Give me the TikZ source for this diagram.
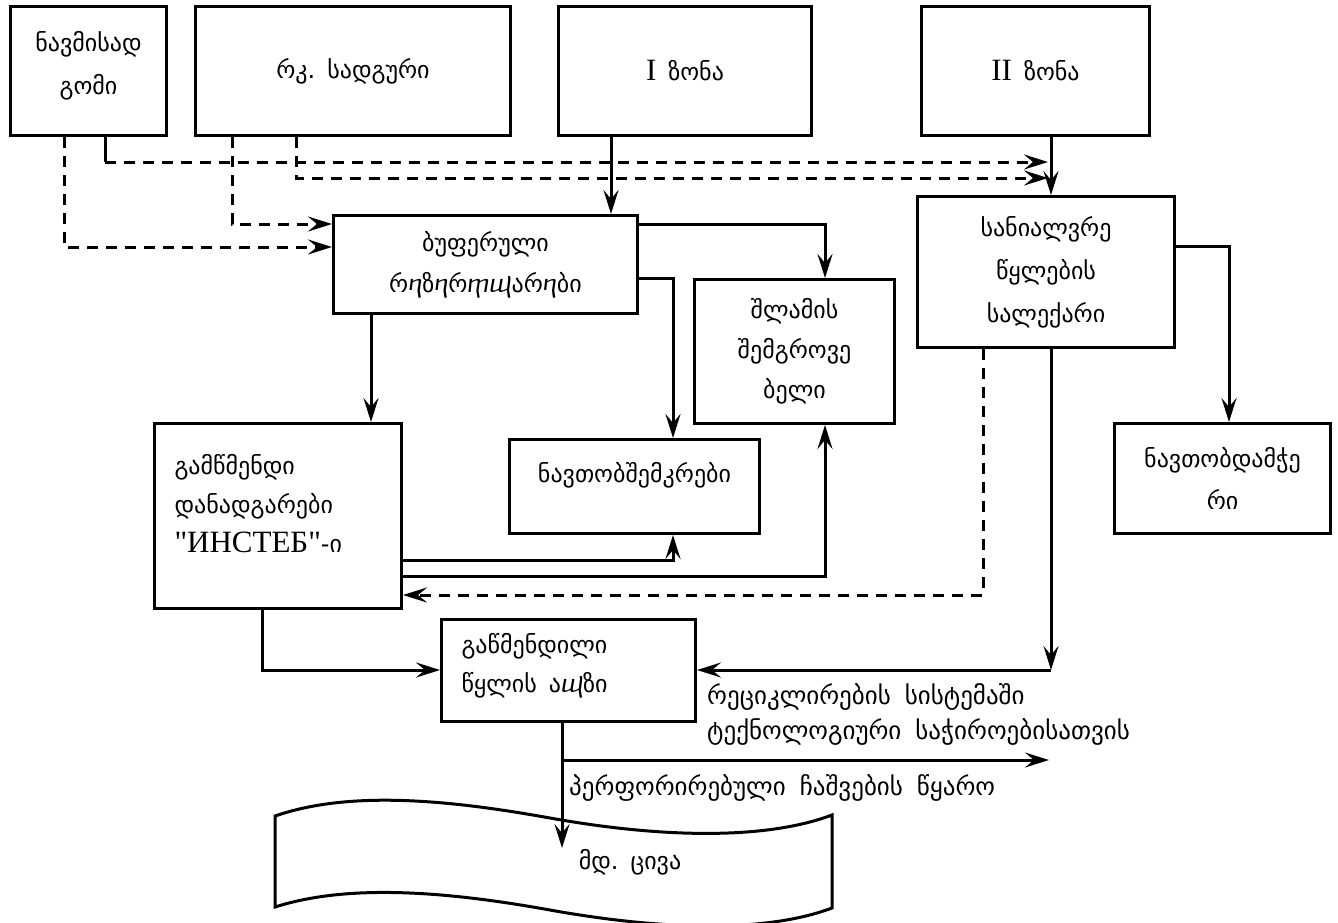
\documentclass[tikz,border=0pt]{standalone}
\usepackage{fontspec}
\setmainfont{Liberation Serif}
\newfontfamily\geo{DejaVu Sans}
\newfontfamily\latn{Liberation Serif}
\usetikzlibrary{arrows.meta}
\newcommand\geotxt{\geo\fontsize{24}{43}\selectfont}
\newcommand\geolbl{\geo\fontsize{25}{43}\selectfont}
\newcommand\lat[1]{{\latn\fontsize{31}{43}\selectfont #1}}
\newcommand\gsp{\hspace{12pt}}
\newcommand\lsp{\hspace{14pt}}
\begin{document}
\begin{tikzpicture}[x=1pt,y=-1pt,
  box/.style={draw, line width=3pt, rectangle, anchor=north west, inner sep=0pt, align=center, font=\geotxt},
  lbox/.style={box, align=left, inner xsep=20pt},
  arr/.style={line width=3pt, -{Stealth[length=24pt,width=15pt,inset=9pt]}},
  darr/.style={arr, dash pattern=on 11pt off 8pt},
  plain/.style={line width=3pt},
  lbl/.style={font=\geolbl, anchor=west, inner sep=0pt}
]
\useasboundingbox (0,0) rectangle (1338,922);

% boxes
\node[box, minimum width=156pt, minimum height=129pt] (n1) at (9,5) {ნავმისად\\გომი\\[-27pt]\mbox{}};
\node[box, minimum width=315pt, minimum height=129pt] (n2) at (194,5) {რკ.\gsp სადგური};
\node[box, minimum width=253pt, minimum height=129pt] (n3) at (557,5) {\lat{I}\gsp ზონა};
\node[box, minimum width=228pt, minimum height=129pt] (n4) at (920,5) {\lat{II}\gsp ზონა};
\node[box, minimum width=257pt, minimum height=151pt] (n5) at (916,195) {სანიალვრე\\წყლების\\სალექარი};
\node[box, minimum width=216pt, minimum height=110pt] (n6) at (1113,422) {ნავთობდამჭე\\[-1pt]რი};
\node[box, minimum width=304pt, minimum height=98pt] (n7) at (332,214) {ბუფერული\\[-2pt]რⴄზⴄრⴅⴓარⴄბი};
\node[box, minimum width=200pt, minimum height=144pt] (n8) at (693,278) {შლამის\\[-3pt]შემგროვე\\[-3pt]ბელი};
\node[box, minimum width=250pt, minimum height=94pt] (n9) at (508,438) {ნავთობშემკრები\\[-14pt]\mbox{}};
\node[lbox, text width=207pt, minimum width=247pt, minimum height=185pt] (n10) at (153,422) {გამწმენდი\\[-4pt]დანადგარები\\[-4pt]\lat{"ИНСТЕБ"}-ი\\[-17pt]\mbox{}};
\node[lbox, text width=214pt, minimum width=254pt, minimum height=102pt] (n11) at (440,618) {\mbox{}\\[-33pt]გაწმენდილი\\[-4pt]წყლის\gsp აⴓზი};

% river
\draw[line width=3pt] (275,816) .. controls (350,790) and (450,800) .. (550,818) .. controls (650,836) and (760,842) .. (832,815) -- (832,908) .. controls (760,935) and (650,928) .. (550,910) .. controls (450,892) and (350,883) .. (275,907) -- cycle;
\node[font=\geotxt] (riv) at (630,862) {მდ.\gsp ცივა};
\coordinate (rivin) at (562,848);

% labels
\node[lbl] (t1) at (707,697) {რეციკლირების\lsp სისტემაში};
\node[lbl] (t2) at (707,732) {ტექნოლოგიური\lsp საჭიროებისათვის};
\node[lbl] (t3) at (569,788) {პერფორირებული\lsp ჩაშვების\lsp წყარო};

% coordinates
\coordinate (ca) at (64,247);
\coordinate (cb) at (105,162);
\coordinate (eb) at (1048,162);
\coordinate (cc) at (232,224);
\coordinate (cd) at (296,178);
\coordinate (ed) at (1048,178);
\coordinate (ce) at (611,0);
\coordinate (cf) at (1051,0);
\coordinate (cg) at (1229,246);
\coordinate (ch) at (983,595);
\coordinate (ci) at (1051,670);
\coordinate (cj) at (825,224);
\coordinate (ck) at (673,278);
\coordinate (cl) at (371,0);
\coordinate (cm) at (673,560);
\coordinate (cn) at (825,576);
\coordinate (co) at (262,670);
\coordinate (cq) at (562,760);
\coordinate (eq) at (1049,760);

% connectors
\draw[darr] (n1.south -| ca) |- (n7.west |- ca);
\draw[plain] (n1.south -| cb) -- (cb);
\draw[darr] (cb) -- (eb);
\draw[darr] (n2.south -| cc) |- (n7.west |- cc);
\draw[darr] (n2.south -| cd) |- (ed);
\draw[arr] (n3.south -| ce) -- (n7.north -| ce);
\draw[arr] (n4.south -| cf) -- (n5.north -| cf);
\draw[arr] (n5.east |- cg) -| (n6.north -| cg);
\draw[darr] (n5.south -| ch) |- (n10.east |- ch);
\draw[arr] (n5.south -| ci) -- (ci);
\draw[arr] (ci) -- (n11.east |- ci);
\draw[arr] (n7.east |- cj) -| (n8.north -| cj);
\draw[arr] (n7.east |- ck) -| (n9.north -| ck);
\draw[arr] (n7.south -| cl) -- (n10.north -| cl);
\draw[arr] (n10.east |- cm) -| (n9.south -| cm);
\draw[arr] (n10.east |- cn) -| (n8.south -| cn);
\draw[arr] (n10.south -| co) |- (n11.west |- co);
\draw[arr] (n11.south -| rivin) -- (rivin);
\draw[arr] (cq) -- (eq);
\end{tikzpicture}
\end{document}
